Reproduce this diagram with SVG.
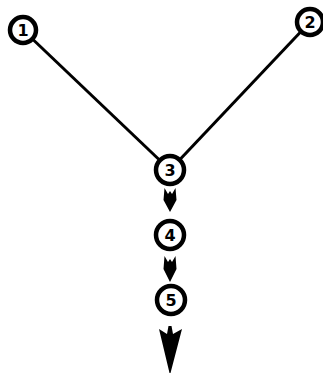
<svg xmlns="http://www.w3.org/2000/svg" width="323" height="375" viewBox="0 0 323 375">
<style>
.n circle{fill:#fff;stroke:#000;stroke-width:4.5}
.n text{font-family:"DejaVu Sans","Liberation Sans",sans-serif;font-weight:bold;font-size:16px;text-anchor:middle;dominant-baseline:central;fill:#000}
.c line{stroke:#000;stroke-width:3}
.c path{fill:#000}
</style>
<rect width="323" height="375" fill="#fff"/>
<g class="c" id="connectors">
<line x1="23" y1="30" x2="170" y2="170"/>
<line x1="310" y1="22" x2="170" y2="170"/>
<path d="M164.5,188 L168,194 L170,191 L172,194 L175.5,188 L176.5,200 L170,212 L163.5,200 Z"/>
<path d="M164.5,256 L168,262 L170,259 L172,262 L175.5,256 L176.5,269 L170,282 L163.5,269 Z"/>
<path d="M159,329 L167,334 L168.5,326 L171.5,326 L173,334 L182,329 L170.5,373 L169.5,373 Z"/>
</g>
<g class="n" id="n1"><circle cx="23" cy="30" r="13"/><text x="23" y="30">1</text></g>
<g class="n" id="n2"><circle cx="310" cy="22" r="13"/><text x="310" y="22">2</text></g>
<g class="n" id="n3"><circle cx="170" cy="170" r="14"/><text x="170" y="170">3</text></g>
<g class="n" id="n4"><circle cx="170" cy="235" r="14"/><text x="170" y="235">4</text></g>
<g class="n" id="n5"><circle cx="171" cy="300" r="14"/><text x="171" y="300">5</text></g>
</svg>
